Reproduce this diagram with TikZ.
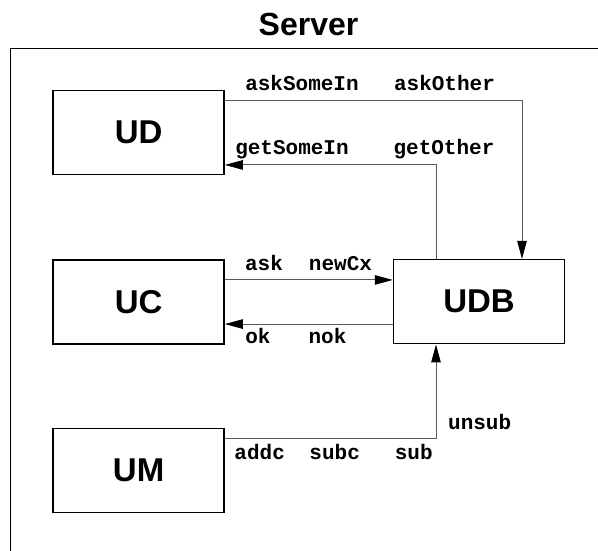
\documentclass[tikz,border=0pt]{standalone}
\usepackage{fontspec}
\setmainfont{Liberation Sans}
\newfontfamily\monof{Liberation Mono}
\usetikzlibrary{arrows.meta}
\tikzset{
  box/.style={draw=black, line width=1.5pt, minimum width=171pt, minimum height=84pt,
    inner sep=0pt, font=\fontsize{33}{33}\selectfont\bfseries},
  conn/.style={draw=black!65, line width=1pt},
  arr/.style={conn, -{Triangle[length=18pt,width=9.5pt,color=black]}},
  lab/.style={anchor=base, inner sep=0pt, font=\fontsize{21}{21}\selectfont\monof\bfseries},
  frame/.style={draw=black, line width=1.5pt},
}
\begin{document}
\begin{tikzpicture}[x=1pt,y=-1pt]
\useasboundingbox (0,0) rectangle (598,551);
% frame
\coordinate (fbl) at (10.7,600);
\coordinate (ftl) at (10.7,48.7);
\coordinate (ftr) at (640,48.7);
\draw[frame] (fbl) -- (ftl) -- (ftr);
\node[anchor=base, inner sep=0pt, font=\fontsize{32}{32}\selectfont\bfseries] (title) at (308.5,36) {Server};
% boxes
\node[box] (UD)  at (138.6,132.7) {UD};
\node[box] (UC)  at (138.6,302)   {UC};
\node[box] (UDB) at (479,301.7)   {UDB};
\node[box] (UM)  at (138.6,470.5) {UM};
% connectors
\draw[arr] ([yshift=-10.5pt]UD.north east) -| ([xshift=43pt]UDB.north);
\draw[arr] ([xshift=-43pt]UDB.north) |- ([yshift=10.5pt]UD.south east);
\coordinate (a1) at ([yshift=-20.7pt]UC.north east);
\coordinate (a2) at ([yshift=20.7pt]UC.south east);
\draw[arr] (a1) -- (a1 -| UDB.west);
\draw[arr] (a2 -| UDB.west) -- (a2);
\draw[arr] ([yshift=-10.7pt]UM.north east) -| ([xshift=-43pt]UDB.south);
% labels
\node[lab] (l1)  at (302,90.7)  {askSomeIn};
\node[lab] (l2)  at (444.5,90.7) {askOther};
\node[lab] (l3)  at (292,154)   {getSomeIn};
\node[lab] (l4)  at (444,154)   {getOther};
\node[lab] (l5)  at (264,270)   {ask};
\node[lab] (l6)  at (340.5,270) {newCx};
\node[lab] (l7)  at (258,343.3) {ok};
\node[lab] (l8)  at (327.5,343.3) {nok};
\node[lab] (l9)  at (479.7,429) {unsub};
\node[lab] (l10) at (259.7,459.7) {addc};
\node[lab] (l11) at (334.7,459.7) {subc};
\node[lab] (l12) at (413.8,459.7) {sub};
\end{tikzpicture}
\end{document}
